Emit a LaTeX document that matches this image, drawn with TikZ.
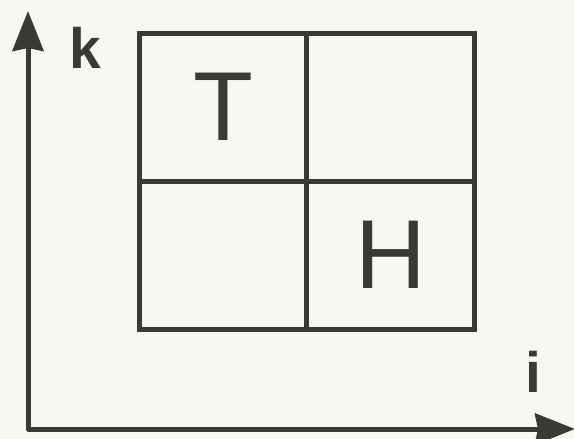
\documentclass[tikz,border=0pt]{standalone}
\usepackage{fontspec}
\setmainfont{Liberation Sans}
\usetikzlibrary{arrows.meta}
\definecolor{ink}{HTML}{3A3A34}
\definecolor{paper}{HTML}{F7F7F4}
\begin{document}
\begin{tikzpicture}[x=1pt,y=-1pt,
  cell/.style={draw=ink, line width=5pt, minimum width=167.5pt, minimum height=148pt, inner sep=0pt, outer sep=0pt, text=ink, font=\fontsize{98}{98}\selectfont},
  axis/.style={draw=ink, line width=5pt, line join=round, {Stealth[length=40pt,width=31pt,inset=3pt]}-{Stealth[length=40pt,width=31pt,inset=3pt]}},
  axlabel/.style={text=ink, font=\bfseries\fontsize{57}{57}\selectfont, inner sep=0pt}]
\fill[paper] (0,0) rectangle (574,439);
\useasboundingbox (0,0) rectangle (574,439);
% cells
\node[cell] (c11) at (223,107) {T};
\node[cell] (c12) at (390.5,107) {};
\node[cell] (c21) at (223,255) {};
\node[cell] (c22) at (390.5,255) {H};
\draw[ink, line width=5pt, line join=round] (c11.north west) rectangle (c22.south east);
% axes
\coordinate (ktip) at (28,11);
\coordinate (O) at (28,429);
\coordinate (itip) at (575,429);
\draw[axis] (ktip) -- (O) -- (itip);
\node[axlabel] (k) at (85,48) {k};
\node[axlabel] (i) at (533,372) {i};
\end{tikzpicture}
\end{document}
